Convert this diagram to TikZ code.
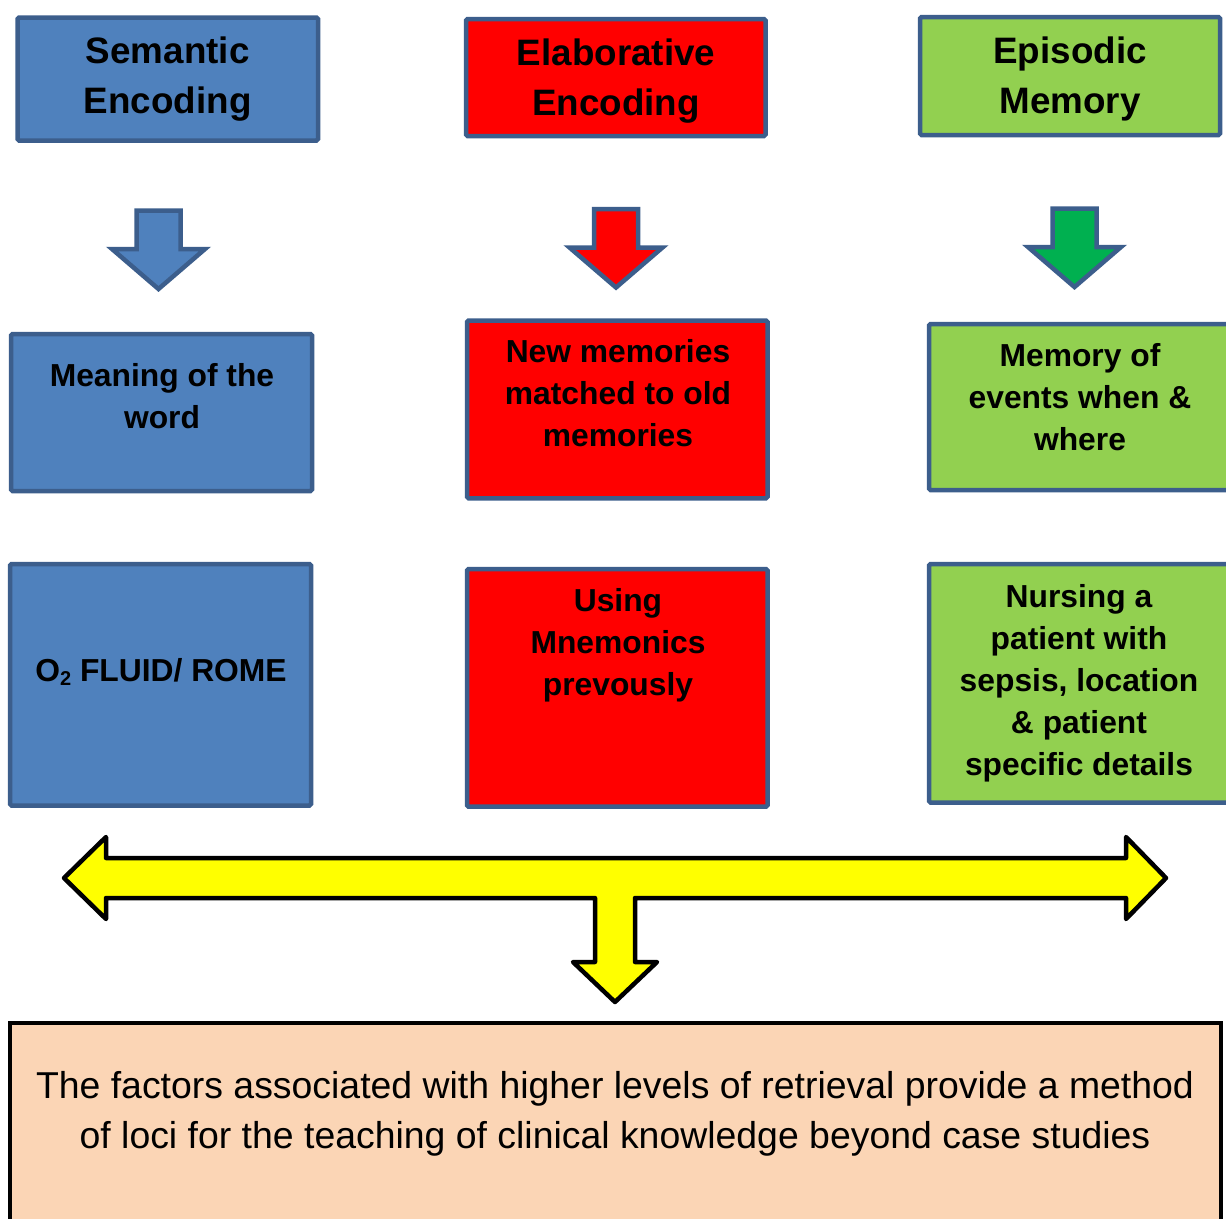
\documentclass[tikz,border=0pt]{standalone}
\usepackage{fontspec}
\setmainfont{Liberation Sans}
\definecolor{semfill}{HTML}{4F81BD}
\definecolor{boxline}{HTML}{3C5E8C}
\definecolor{elabfill}{HTML}{FF0000}
\definecolor{epifill}{HTML}{92D050}
\definecolor{epiarrow}{HTML}{00B050}
\definecolor{joinfill}{HTML}{FFFF00}
\definecolor{notefill}{HTML}{FBD5B5}
\tikzset{
  box/.style={draw=boxline, line width=4.5pt, rounded corners=1.5pt, inner sep=0pt},
  title/.style={font=\fontsize{36.8}{50}\selectfont\bfseries, align=center, inner sep=0pt},
  body/.style={font=\fontsize{31.8}{42}\selectfont\bfseries, align=center, inner sep=0pt},
  note/.style={font=\fontsize{37.4}{50}\selectfont, align=center, inner sep=0pt},
  blockarrow/.style={draw=boxline, line width=4.5pt, line join=miter},
  pics/downblock/.style={code={
    \draw[pic actions] (-22,0) -- (22,0) -- (22,38.5) -- (46.5,38.5) -- (0,78.5)
      -- (-46.5,38.5) -- (-22,38.5) -- cycle;}}
}
\newcommand{\boxat}[6]{% name, fill, x1, y1, x2, y2
  \node[box, fill=#2, minimum width=#5-#3, minimum height=#6-#4]
    (#1) at ({(#3+#5)/2},{(#4+#6)/2}) {};}
\begin{document}
\begin{tikzpicture}[x=1pt, y=-1pt]
\clip (0,0) rectangle (1226,1218);
\fill[white] (0,0) rectangle (1226,1218);

% top row: encoding types
\boxat{sem}{semfill}{17.5}{17.5}{318}{140.5}
\boxat{elab}{elabfill}{466}{19}{765.5}{136}
\boxat{epi}{epifill}{920}{17}{1220}{135}
\node[title] (sem-t) at (167.75,78) {\strut Semantic\\\strut Encoding};
\node[title] (elab-t) at (616,80) {\strut Elaborative\\\strut Encoding};
\node[title] (epi-t) at (1070,78) {\strut Episodic\\\strut Memory};

% block arrows between the title row and the description row
\pic[blockarrow, fill=semfill] at (158.5,210.5) {downblock};
\pic[blockarrow, fill=elabfill] at (616,209) {downblock};
\pic[blockarrow, fill=epiarrow] at (1074.5,208.5) {downblock};

% second row: descriptions
\boxat{sem2}{semfill}{11}{334}{312}{491}
\boxat{elab2}{elabfill}{467}{320.5}{767.5}{498.3}
\boxat{epi2}{epifill}{929}{324}{1231}{490}
\node[body] (sem2-t) at (162,399) {\strut Meaning of the\\\strut word};
\node[body] (elab2-t) at (618,396) {\strut New memories\\\strut matched to old\\\strut memories};
\node[body] (epi2-t) at (1080,400.5) {\strut Memory of\\\strut events when \&\\\strut where};

% third row: examples
\boxat{sem3}{semfill}{10}{564}{311}{805.5}
\boxat{elab3}{elabfill}{467}{569}{767.5}{806.7}
\boxat{epi3}{epifill}{929}{564}{1231}{802.5}
\node[body] (sem3-t) at (161,672.6) {\strut O\raisebox{-4pt}{\fontsize{20}{20}\selectfont 2} FLUID/ ROME};
\node[body] (elab3-t) at (618,645) {\strut Using\\\strut Mnemonics\\\strut prevously};
\node[body] (epi3-t) at (1079,682.6) {\strut Nursing a\\\strut patient with\\\strut sepsis, location\\\strut \& patient\\\strut specific details};

% joining double arrow with downward stem
\draw[fill=joinfill, line width=4.5pt, line join=round]
  (64,878) -- (106,837) -- (106,858) -- (1126,858) -- (1126,837) -- (1166,878)
  -- (1126,919) -- (1126,898) -- (635,898) -- (635,962) -- (657,962) -- (615,1002)
  -- (573,962) -- (595,962) -- (595,898) -- (106,898) -- (106,919) -- cycle;

% conclusion
\node[draw=black, fill=notefill, line width=4.5pt, inner sep=0pt,
      minimum width=1211, minimum height=260] (note) at (615.5,1153) {};
\node[note] (note-t) at (615,1113) {\strut The factors associated with higher levels of retrieval provide a method\\\strut of loci for the teaching of clinical knowledge beyond case studies};
\end{tikzpicture}
\end{document}
